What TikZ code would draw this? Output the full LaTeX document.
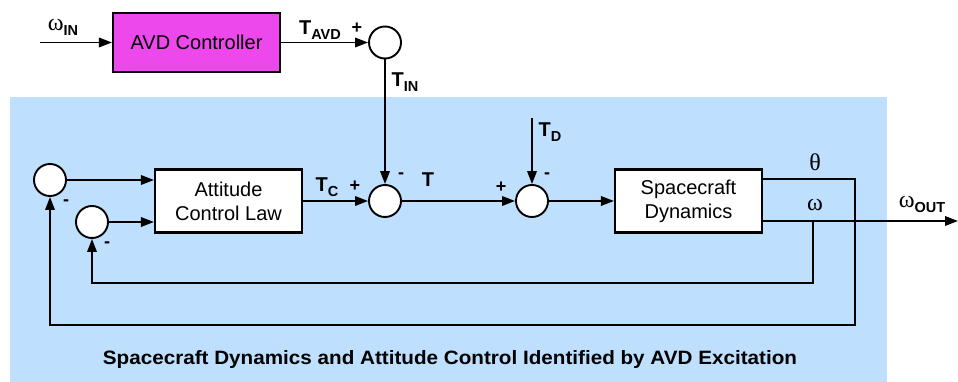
\documentclass[tikz,border=0pt]{standalone}
\usepackage{fontspec}
\setmainfont{Liberation Sans}
\newfontfamily\grk{Liberation Serif}
\usetikzlibrary{arrows.meta}
\definecolor{bgblue}{RGB}{190,223,253}
\definecolor{avdmag}{RGB}{236,72,236}
\newcommand{\Tl}[1]{{\fontsize{20}{20}\selectfont\bfseries T}\raisebox{-5pt}{\fontsize{14.5}{14.5}\selectfont\bfseries #1}}
\newcommand{\Wl}[1]{{\fontsize{24}{24}\grk ω}\raisebox{-5pt}{\fontsize{14.5}{14.5}\selectfont\bfseries #1}}
\begin{document}
\begin{tikzpicture}[x=1pt,y=-1pt,
 box/.style={draw,line width=2.1pt,minimum width=147pt,minimum height=63pt,align=center,font=\fontsize{20}{24}\selectfont,inner sep=0pt},
 sumc/.style={circle,draw,line width=1.9pt,fill=white,minimum size=32pt,inner sep=0pt},
 conn/.style={line width=1.8pt},
 arr/.style={conn,-{Triangle[length=13pt,width=9.5pt]}},
 sgn/.style={font=\fontsize{18}{18}\selectfont\bfseries,inner sep=0pt},
 lab/.style={inner sep=0pt},
 grlab/.style={inner sep=0pt,font=\fontsize{24}{24}\grk}]
\useasboundingbox (0,0) rectangle (958,382);
\fill[bgblue] (10,97) rectangle (887,382);
% blocks
\node[box,fill=avdmag,minimum width=167pt,minimum height=59pt] (avd) at (196.5,42.5) {AVD Controller};
\node[box,fill=white] (acl) at (228.5,201) {Attitude\\Control Law};
\node[box,fill=white] (scd) at (688.5,201) {Spacecraft\\Dynamics};
% summing junctions
\node[sumc] (c0) at (385,42.5) {};
\node[sumc] (c1) at (50,180) {};
\node[sumc] (c2) at (92,222) {};
\node[sumc] (c3) at (385,201) {};
\node[sumc] (c4) at (532,201) {};
% free ends and corners
\coordinate (win) at (40,42.5);
\coordinate (td) at (532,118);
\coordinate (wout) at (958,221);
\coordinate (th1) at (855,179);
\coordinate (th2) at (855,325);
\coordinate (th3) at (50,325);
\coordinate (wb) at (813,221);
\coordinate (wb2) at (813,283);
\coordinate (wb3) at (92,283);
% connectors
\draw[arr] (win) -- (avd.west);
\draw[arr] (avd.east) -- (c0.west);
\draw[arr] (c0) -- (c3);
\draw[arr] (acl.east) -- (c3);
\draw[arr] (c3) -- (c4);
\draw[arr] (td) -- (c4);
\draw[arr] (c4) -- (scd);
\draw[arr] (c1) -- (c1 -| acl.west);
\draw[arr] (c2) -- (c2 -| acl.west);
\draw[arr] (scd.east |- th1) -- (th1) -- (th2) -- (th3) -- (c1.south);
\draw[arr] (scd.east |- wout) -- (wout);
\draw[arr] (wb) -- (wb2) -- (wb3) -- (c2.south);
% labels
\node[lab] (lwin) at (63,27) {\Wl{IN}};
\node[lab] (ltavd) at (320,30) {\Tl{AVD}};
\node[sgn] (p0) at (357,28) {+};
\node[lab] (ltin) at (405,82) {\Tl{IN}};
\node[lab] (ltc) at (327,187) {\Tl{C}};
\node[sgn] (p3) at (355,186) {+};
\node[sgn] (m3) at (401,176) {-};
\node[lab] (lt) at (428,180) {\fontsize{20}{20}\selectfont\bfseries T};
\node[sgn] (p4) at (501,187) {+};
\node[sgn] (m4) at (547,176) {-};
\node[lab] (ltd) at (550,132) {\Tl{D}};
\node[sgn] (m1) at (66,203) {-};
\node[sgn] (m2) at (107,245) {-};
\node[grlab] (lth) at (815,162) {θ};
\node[grlab] (lw) at (815,205) {ω};
\node[lab] (lwout) at (922,204) {\Wl{OUT}};
\node[lab,anchor=base] (cap) at (450,364) {\resizebox{694pt}{14pt}{\bfseries Spacecraft Dynamics and Attitude Control Identified by AVD Excitation}};
\end{tikzpicture}
\end{document}
